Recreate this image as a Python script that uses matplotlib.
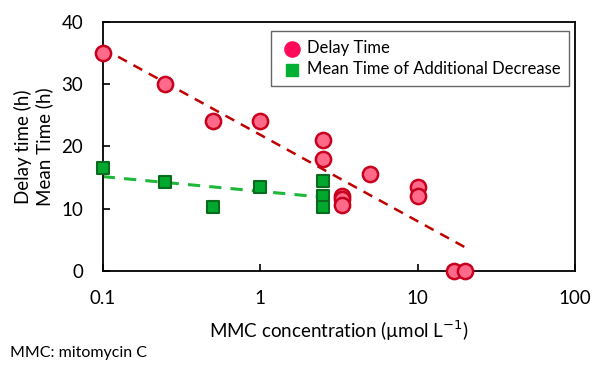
import numpy as np
import matplotlib.pyplot as plt

plt.rcParams['font.family'] = ['Lato', 'DejaVu Sans']

# Delay time (red circles)
delay_conc = [0.1, 0.25, 0.5, 1, 2.5, 2.5, 3.33, 3.33, 3.33, 5, 10, 10, 17, 20]
delay_time = [35, 30, 24, 24, 21, 18, 12, 11.5, 10.5, 15.5, 13.5, 12, 0, 0]

# Mean time of additional decrease (green squares)
mean_conc = [0.1, 0.25, 0.5, 1, 2.5, 2.5, 2.5]
mean_time = [16.5, 14.3, 10.2, 13.5, 14.4, 12, 10.2]

fig = plt.figure(figsize=(5.94, 3.70), dpi=100)
ax = fig.add_axes([0.173, 0.268, 0.795, 0.673])

# log-linear trend lines
def trend(xs, ys):
    b, a = np.polyfit(np.log10(xs), ys, 1)
    xx = np.array([min(xs), max(xs)])
    return xx, a + b * np.log10(xx)

tx, ty = trend(delay_conc, delay_time)
ax.plot(tx, ty, linestyle=(0, (4, 3)), color='#C00000', lw=1.8, zorder=2)
tx, ty = trend(mean_conc, mean_time)
ax.plot(tx, ty, linestyle=(0, (4, 3)), color='#1DB83A', lw=2.2, zorder=2)

ax.scatter(delay_conc, delay_time, s=120, marker='o', facecolor='#FF6A8A',
           edgecolor='#C8001E', linewidth=1.8, zorder=3, clip_on=False)
ax.scatter(mean_conc, mean_time, s=80, marker='s', facecolor='#00A82D',
           edgecolor='#0A6A1E', linewidth=1.5, zorder=3, clip_on=False)

# legend handles drawn plain like the original
ax.scatter([], [], s=120, marker='o', color='#FF0A5A', label='Delay Time')
ax.scatter([], [], s=80, marker='s', color='#00B034',
           label='Mean Time of Additional Decrease')
leg = ax.legend(loc='upper right', bbox_to_anchor=(0.988, 0.964), fontsize=12,
                frameon=True, fancybox=False, edgecolor='#404040',
                borderaxespad=0, handletextpad=0.1, borderpad=0.55,
                labelspacing=0.3, handlelength=1.5)
leg.get_frame().set_linewidth(1.0)

ax.set_xscale('log')
ax.set_xlim(0.1, 100)
ax.set_ylim(0, 40)
ax.set_xticks([0.1, 1, 10, 100])
ax.set_xticklabels(['0.1', '1', '10', '100'])
ax.set_yticks([0, 10, 20, 30, 40])
ax.minorticks_off()
ax.tick_params(direction='in', length=5, width=1.2, labelsize=13.5)
ax.tick_params(axis='x', pad=14)
ax.tick_params(axis='y', pad=14)
for s in ax.spines.values():
    s.set_linewidth(1.3)

ax.set_xlabel('MMC concentration (\u00b5mol L$^{-1}$)', fontsize=13.5, labelpad=8)
ax.set_ylabel('Delay time (h)\nMean Time (h)', fontsize=13.5, labelpad=6)

fig.text(0.017, 0.035, 'MMC: mitomycin C', fontsize=11.5)

fig.savefig('out.png', dpi=100)
